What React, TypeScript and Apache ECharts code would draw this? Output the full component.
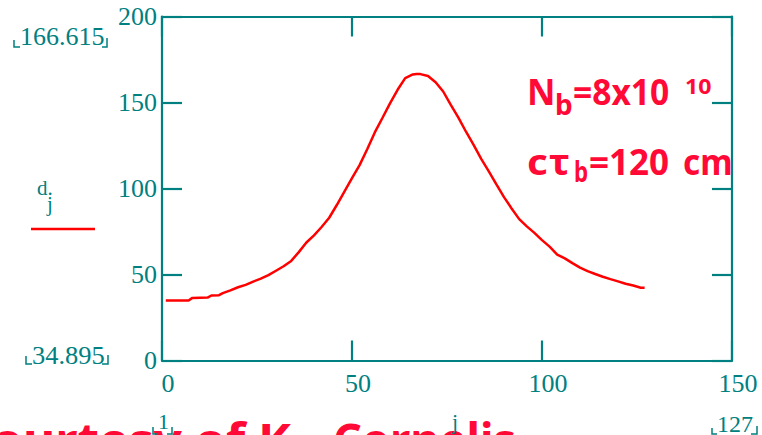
import React, { useEffect, useRef } from "react";
import * as echarts from "echarts";

// index j and value d_j
const jValues = [1, 3, 5, 7, 8, 10, 12, 13, 15, 16, 18, 20, 22, 24, 26, 28, 30, 32, 34, 36, 38, 40, 42, 44, 46, 48, 50, 52, 54, 56, 58, 60, 62, 64, 66, 67, 68, 70, 72, 74, 76, 78, 80, 82, 84, 86, 88, 90, 92, 94, 96, 98, 100, 102, 104, 106, 108, 110, 112, 114, 116, 118, 120, 122, 124, 126, 127];
const dValues = [34.9, 34.9, 34.9, 34.9, 36.4, 36.5, 36.6, 37.8, 38.0, 39.2, 40.8, 42.6, 44.0, 45.9, 47.6, 49.6, 52.2, 54.8, 57.9, 63.0, 68.6, 72.8, 77.6, 83.0, 90.4, 98.2, 106.0, 113.6, 122.8, 132.6, 141.0, 149.5, 157.4, 164.2, 166.3, 166.615, 166.5, 165.4, 161.8, 156.4, 148.6, 141.2, 133.0, 125.4, 117.2, 110.0, 102.4, 95.0, 88.4, 82.2, 78.0, 74.2, 70.0, 66.2, 61.6, 59.4, 56.6, 54.0, 52.0, 50.3, 48.7, 47.3, 46.0, 44.6, 43.6, 42.3, 42.3];

const xRange = [0, 150];
const xStep = 50;
const yRange = [0, 200];
const yStep = 50;

const maxLabel = "166.615";
const minLabel = "34.895";
const jFirst = "1";
const jLast = "127";
const creditA = "courtesy of K.";
const creditB = "Cornelis";

const TEAL = "#008080";
const RED = "#ff0000";
const PINK_RED = "#ff0a37";
const SERIF = "Liberation Serif, serif";
const SANS = "Noto Sans, DejaVu Sans, sans-serif";

function txt(text: string, x: number, y: number, fontSize: number, fill: string, family: string, weight: string = "normal", scaleX: number = 1, align: string = "left") {
  return {
    type: "text",
    x,
    y,
    scaleX,
    z: 10,
    silent: true,
    style: {
      text,
      fill,
      fontSize,
      fontFamily: family,
      fontWeight: weight,
      textAlign: align,
      align,
      textVerticalAlign: "middle",
      verticalAlign: "middle",
    },
  };
}

function bracket(points: number[][]) {
  return {
    type: "polyline",
    z: 11,
    silent: true,
    shape: { points },
    style: { stroke: TEAL, lineWidth: 1.5, fill: "none" },
  };
}

export default function App() {
  const ref = useRef<HTMLDivElement>(null);
  useEffect(() => {
    if (!ref.current) return;
    const chart = echarts.init(ref.current, undefined, { renderer: "svg" });
    const axisLine = { show: true, onZero: false, lineStyle: { color: TEAL, width: 2.2 } };
    const axisTick = { show: true, inside: true, length: 20, lineStyle: { color: TEAL, width: 2.2 } };
    const labelStyle = { color: TEAL, fontFamily: SERIF, fontSize: 26 };
    chart.setOption({
      animation: false,
      backgroundColor: "#ffffff",
      grid: { left: 162, right: 30, top: 16.5, bottom: 74.5, containLabel: false },
      xAxis: [
        {
          type: "value", position: "bottom", min: xRange[0], max: xRange[1], interval: xStep,
          axisLine, axisTick, splitLine: { show: false },
          axisLabel: { ...labelStyle, margin: 10, padding: [0, 0, 0, 12] },
        },
        {
          type: "value", position: "top", min: xRange[0], max: xRange[1], interval: xStep,
          axisLine, axisTick, splitLine: { show: false }, axisLabel: { show: false },
        },
      ],
      yAxis: [
        {
          type: "value", position: "left", min: yRange[0], max: yRange[1], interval: yStep,
          axisLine, axisTick, splitLine: { show: false },
          axisLabel: { ...labelStyle, margin: 5, padding: [8, 0, 0, 0] },
        },
        {
          type: "value", position: "right", min: yRange[0], max: yRange[1], interval: yStep,
          axisLine, axisTick, splitLine: { show: false }, axisLabel: { show: false },
        },
      ],
      series: [
        {
          type: "line",
          xAxisIndex: 0,
          yAxisIndex: 0,
          data: jValues.map((j, i) => [j, dValues[i]]),
          showSymbol: false,
          smooth: false,
          silent: true,
          lineStyle: { color: RED, width: 2.5 },
          itemStyle: { color: RED },
        },
      ],
      graphic: [
        // credit line at bottom (cut by page edge)
        txt(creditA, 305, 439, 46, PINK_RED, SANS, "bold", 1.08, "right"),
        txt(creditB, 333, 439, 46, PINK_RED, SANS, "bold", 0.98),
        // annotations
        txt("N", 527, 91.4, 35, PINK_RED, SANS, "bold"),
        txt("b", 555, 104, 28, PINK_RED, SANS, "bold"),
        txt("=8x10", 573, 91.4, 35, PINK_RED, SANS, "bold", 0.96),
        txt("10", 685, 85, 21, PINK_RED, SANS, "bold", 1.1),
        txt("c", 527, 161.4, 35, PINK_RED, SANS, "bold", 1.15),
        txt("τ", 549, 161.4, 35, PINK_RED, SANS, "bold", 1.1),
        txt("b", 574, 171, 28, PINK_RED, SANS, "bold", 0.8),
        txt("=120", 589, 161.4, 35, PINK_RED, SANS, "bold", 1.0),
        txt("cm", 683, 161.4, 35, PINK_RED, SANS, "bold", 0.95),
        // Mathcad range labels
        txt(maxLabel, 20, 37, 25, TEAL, SERIF, "normal", 1.04),
        bracket([[14, 40], [14, 47], [20, 47]]),
        bracket([[102, 47], [107, 47], [107, 38]]),
        txt(minLabel, 32, 356, 25, TEAL, SERIF, "normal", 1.06),
        bracket([[26, 356], [26, 364], [32, 364]]),
        bracket([[102, 364], [108, 364], [108, 355]]),
        txt("d.", 37, 188.3, 21, TEAL, SERIF),
        txt("j", 47, 204, 21, TEAL, SERIF),
        { type: "line", z: 10, silent: true, shape: { x1: 31, y1: 229, x2: 95, y2: 229 }, style: { stroke: RED, lineWidth: 2.5 } },
        txt(jFirst, 158, 421, 22, TEAL, SERIF),
        bracket([[153, 427], [153, 434], [158, 434]]),
        bracket([[167, 434], [172, 434], [172, 427]]),
        txt("j", 452, 421, 22, TEAL, SERIF),
        txt(jLast, 717, 424, 24, TEAL, SERIF),
        bracket([[712, 428], [712, 434], [717, 434]]),
        bracket([[751, 434], [757, 434], [757, 426]]),
      ],
    });
    return () => chart.dispose();
  }, []);
  return <div ref={ref} style={{ position: "absolute", left: 0, top: 0, width: 762, height: 435, overflow: "hidden" }} />;
}
